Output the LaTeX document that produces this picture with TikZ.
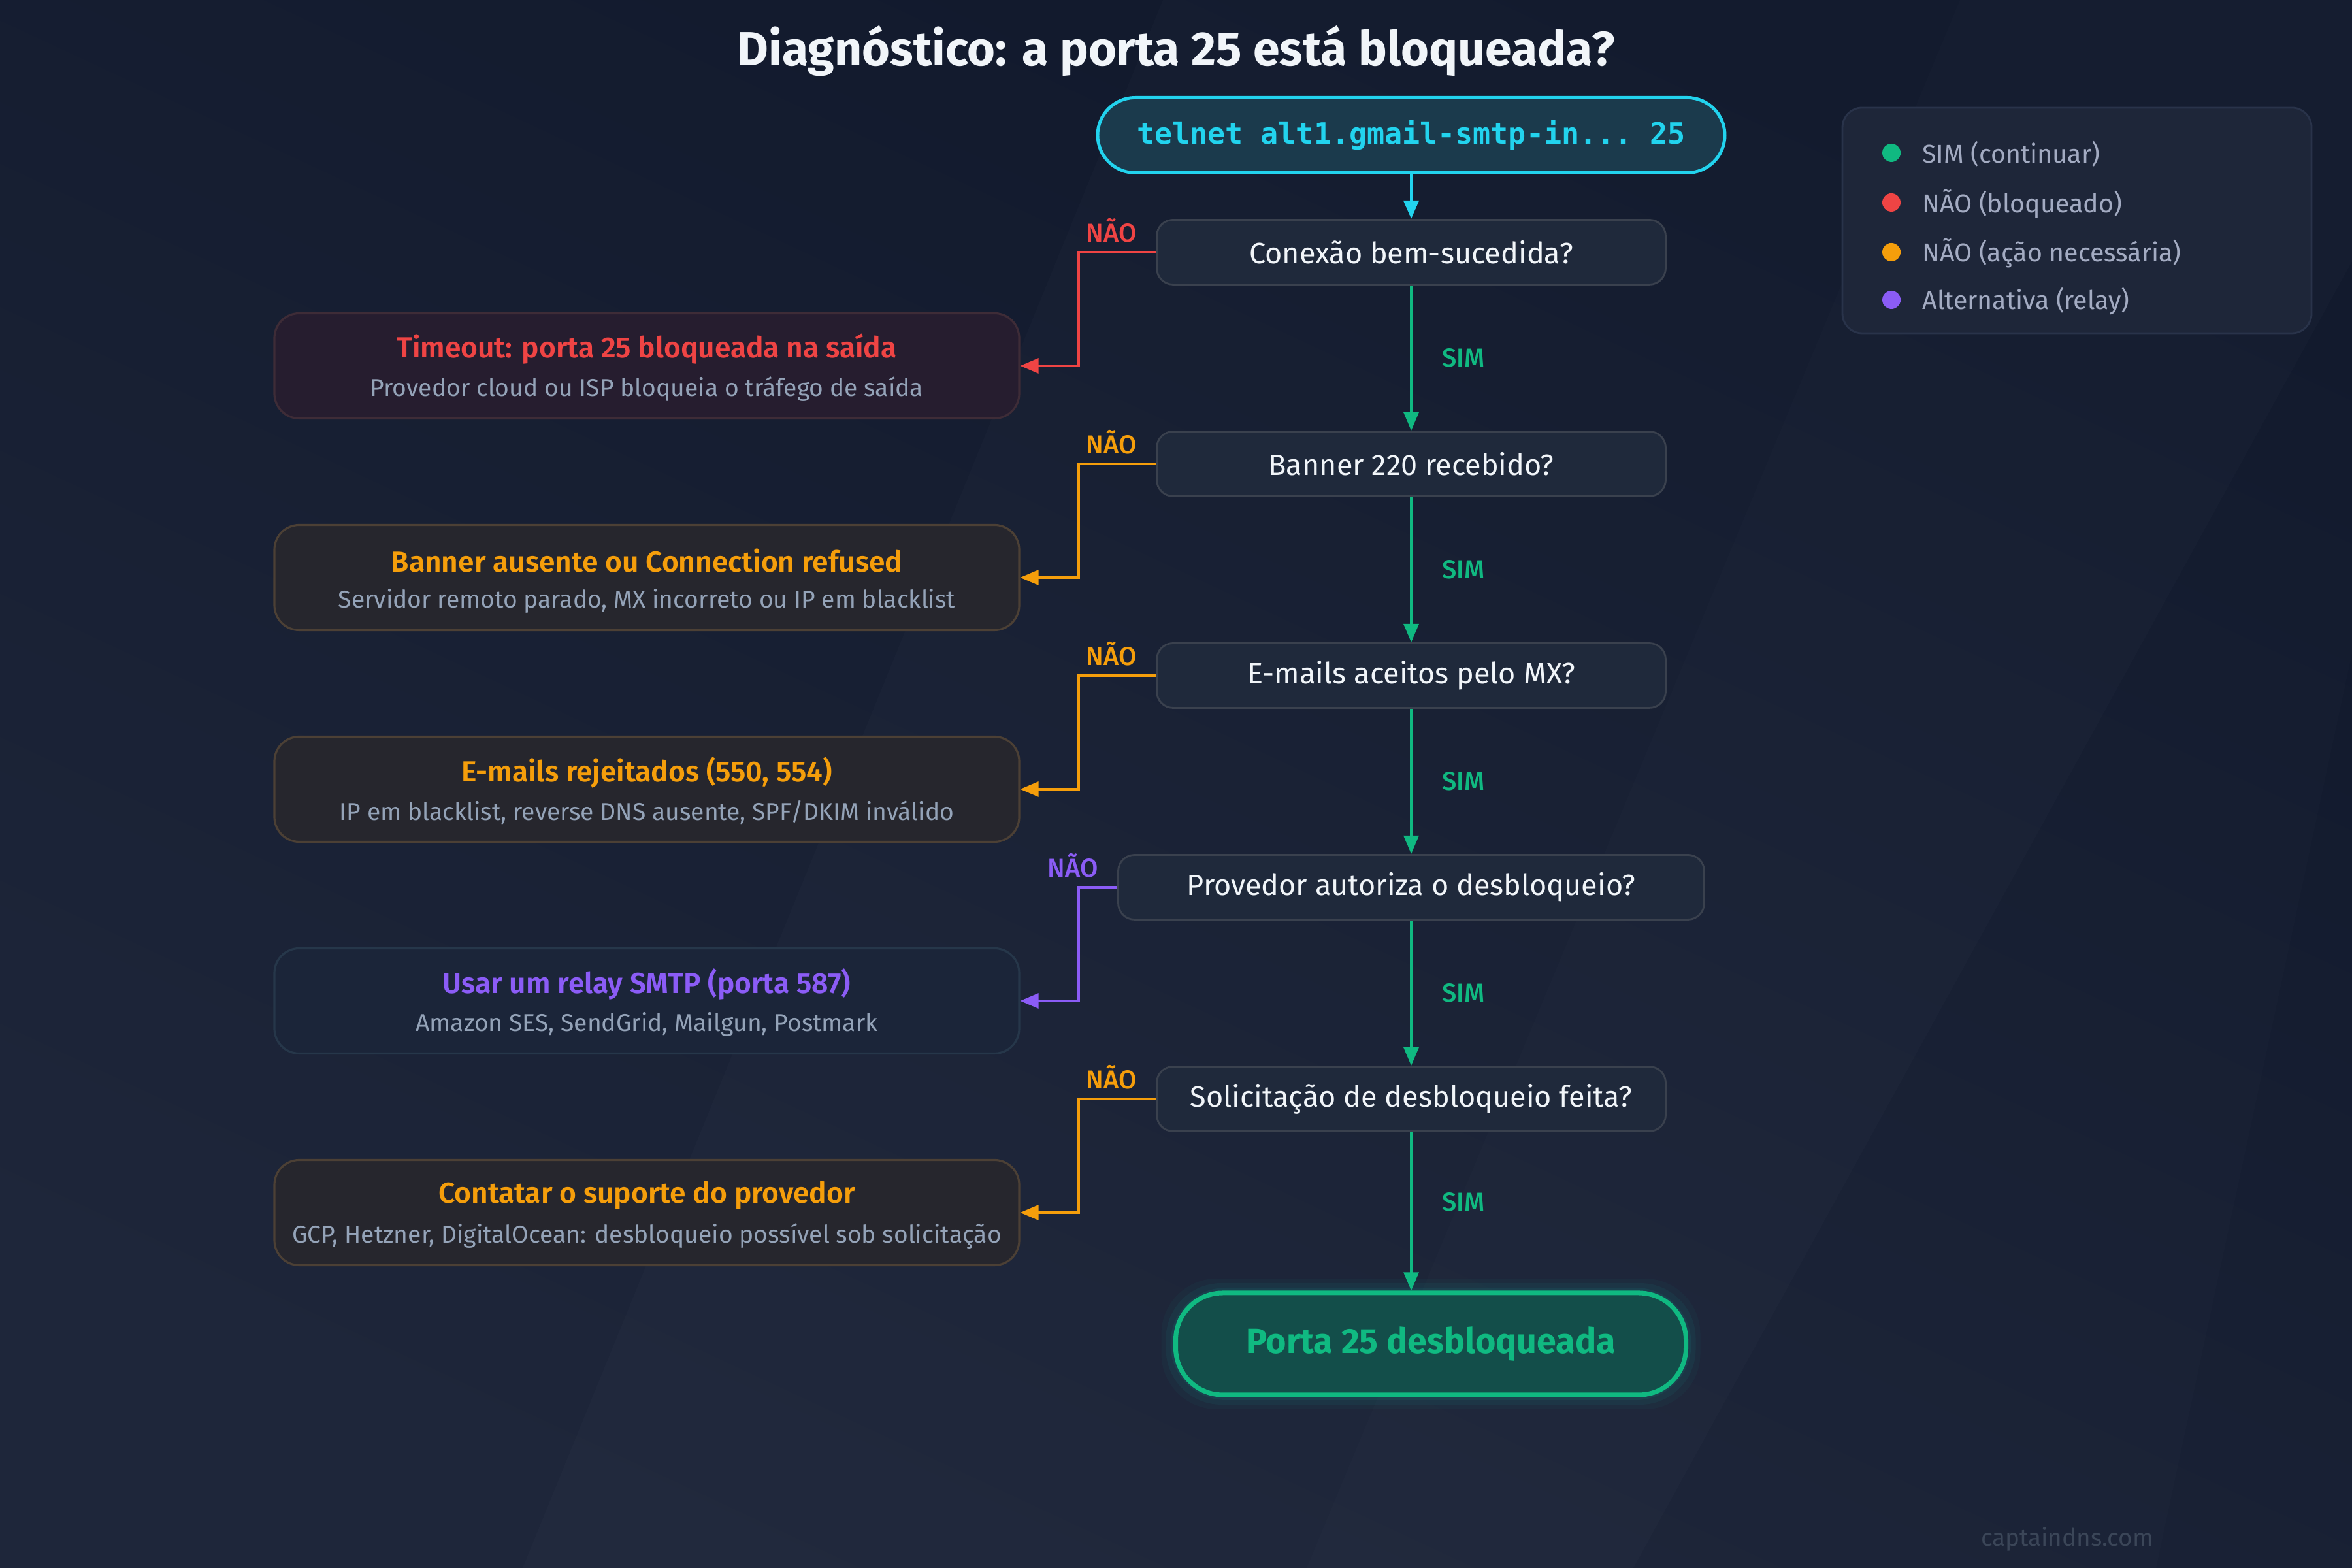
\documentclass[tikz,border=0pt]{standalone}
\usepackage{fontspec}
\setmainfont{Fira Sans}
\setmonofont{DejaVu Sans Mono}
\newfontfamily\semib{Fira Sans SemiBold}
\newfontfamily\medium{Fira Sans Medium}
\usetikzlibrary{calc,arrows.meta,positioning}
\definecolor{bgtop}{HTML}{10182B}
\definecolor{bgbot}{HTML}{1E263A}
\definecolor{text}{HTML}{F1F5F9}
\definecolor{muted}{HTML}{94A3B8}
\definecolor{legtext}{HTML}{A3ABC2}
\definecolor{mark}{HTML}{3B4658}
\definecolor{cmd}{HTML}{22D3EE}
\definecolor{cmdbg}{HTML}{1B3A4C}
\definecolor{sim}{HTML}{10B981}
\definecolor{okbg}{HTML}{134E4A}
\definecolor{naored}{HTML}{EF4444}
\definecolor{naoorange}{HTML}{F59E0B}
\definecolor{alt}{HTML}{8B5CF6}
\definecolor{decbg}{HTML}{1F293B}
\definecolor{decline}{HTML}{3A414E}
\definecolor{redbg}{HTML}{261D2F}
\definecolor{redline}{HTML}{3E2C37}
\definecolor{orbg}{HTML}{26262D}
\definecolor{orline}{HTML}{4C4035}
\definecolor{altbg}{HTML}{1B2539}
\definecolor{altline}{HTML}{26374A}
\definecolor{legbg}{HTML}{1E2639}
\definecolor{legline}{HTML}{29334A}
\tikzset{
  dec/.style={draw=decline, fill=decbg, line width=0.8pt, rounded corners=0.25cm,
    minimum width=7.79cm, minimum height=0.99cm, text=text, font=\fontsize{12.8}{15}\selectfont},
  outbox/.style={line width=0.9pt, rounded corners=0.38cm, minimum width=11.4cm, minimum height=1.61cm},
  ttl/.style={font=\fontsize{12.6}{15}\selectfont\semib},
  sub/.style={text=muted, font=\fontsize{10.6}{12}\selectfont},
  lab/.style={font=\fontsize{11.3}{13}\selectfont\medium},
  yes/.style={draw=sim, line width=1pt, -{Triangle[length=8pt,width=6.5pt]}},
  no/.style={line width=1pt, -{Triangle[length=8pt,width=6.5pt]}},
  dot/.style={circle, inner sep=0pt, minimum size=0.28cm},
  legitem/.style={text=legtext, anchor=west, font=\fontsize{11.2}{13}\selectfont},
}

\begin{document}
\begin{tikzpicture}
  \useasboundingbox (0,0) rectangle (36,24);
  % background
  \shade[top color=bgtop, bottom color=bgbot, shading angle=-25] (0,0) rectangle (36,24);
  \fill[white, opacity=0.015] (17.8,24) -- (36,24) -- (36,20) -- (25,0) -- (8,0) -- cycle;
  \fill[white, opacity=0.012] (30,24) -- (36,24) -- (36,14) -- (33,0) -- (20,0) -- cycle;

  \node[text=text, font=\fontsize{20.9}{24}\selectfont\bfseries] (title) at (18,23.22) {Diagnóstico: a porta 25 está bloqueada?};

  \node[draw=cmd, fill=cmdbg, line width=1.4pt, rounded corners=0.575cm, minimum width=9.6cm,
    minimum height=1.15cm, text=cmd, font=\fontsize{12.8}{15}\selectfont\ttfamily\bfseries]
    (cmd) at (21.6,21.93) {telnet alt1.gmail-smtp-in... 25};

  \node[dec] (d1) at (21.6,20.14) {Conexão bem-sucedida?};
  \node[dec] (d2) at (21.6,16.90) {Banner 220 recebido?};
  \node[dec] (d3) at (21.6,13.66) {E-mails aceitos pelo MX?};
  \node[dec, minimum width=8.97cm] (d4) at (21.6,10.42) {Provedor autoriza o desbloqueio?};
  \node[dec] (d5) at (21.6,7.18) {Solicitação de desbloqueio feita?};

  % glow of the last step
  \foreach \g/\o in {0.22/0.04,0.15/0.06,0.08/0.08}
    \fill[cmd!50!sim, opacity=\o, rounded corners=0.85cm] ($(21.9,3.43)+(-3.905-\g,-0.78-\g)$) rectangle ($(21.9,3.43)+(3.905+\g,0.78+\g)$);
  \node[draw=sim, fill=okbg, line width=2pt, rounded corners=0.72cm, minimum width=7.81cm,
    minimum height=1.56cm, text=sim, font=\fontsize{15.3}{18}\selectfont\bfseries]
    (ok) at (21.9,3.43) {Porta 25 desbloqueada};

  \node[outbox, draw=redline, fill=redbg] (r1) at (9.9,18.40) {};
  \node[outbox, draw=orline, fill=orbg] (r2) at (9.9,15.16) {};
  \node[outbox, draw=orline, fill=orbg] (r3) at (9.9,11.92) {};
  \node[outbox, draw=altline, fill=altbg] (r4) at (9.9,8.68) {};
  \node[outbox, draw=orline, fill=orbg] (r5) at (9.9,5.44) {};

  \node[ttl, text=naored] (r1t) at ($(r1.center)+(0,0.26)$) {Timeout: porta 25 bloqueada na saída};
  \node[sub] (r1s) at ($(r1.center)+(0,-0.36)$) {Provedor cloud ou ISP bloqueia o tráfego de saída};
  \node[ttl, text=naoorange] (r2t) at ($(r2.center)+(0,0.26)$) {Banner ausente ou Connection refused};
  \node[sub] (r2s) at ($(r2.center)+(0,-0.36)$) {Servidor remoto parado, MX incorreto ou IP em blacklist};
  \node[ttl, text=naoorange] (r3t) at ($(r3.center)+(0,0.26)$) {E-mails rejeitados (550, 554)};
  \node[sub] (r3s) at ($(r3.center)+(0,-0.36)$) {IP em blacklist, reverse DNS ausente, SPF/DKIM inválido};
  \node[ttl, text=alt] (r4t) at ($(r4.center)+(0,0.26)$) {Usar um relay SMTP (porta 587)};
  \node[sub] (r4s) at ($(r4.center)+(0,-0.36)$) {Amazon SES, SendGrid, Mailgun, Postmark};
  \node[ttl, text=naoorange] (r5t) at ($(r5.center)+(0,0.26)$) {Contatar o suporte do provedor};
  \node[sub] (r5s) at ($(r5.center)+(0,-0.36)$) {GCP, Hetzner, DigitalOcean: desbloqueio possível sob solicitação};

  % main line
  \draw[draw=cmd, line width=1.4pt, -{Triangle[length=8pt,width=6.5pt]}] (cmd) -- (d1);
  \draw[yes] (d1) -- (d2);
  \draw[yes] (d2) -- (d3);
  \draw[yes] (d3) -- (d4);
  \draw[yes] (d4) -- (d5);
  \draw[yes] (d5.south) -- (d5.south |- ok.north);

  \node[lab, text=sim, anchor=west] (s1) at ($(d1.south)!0.5!(d2.north)+(0.35,0)$) {SIM};
  \node[lab, text=sim, anchor=west] (s2) at ($(d2.south)!0.5!(d3.north)+(0.35,0)$) {SIM};
  \node[lab, text=sim, anchor=west] (s3) at ($(d3.south)!0.5!(d4.north)+(0.35,0)$) {SIM};
  \node[lab, text=sim, anchor=west] (s4) at ($(d4.south)!0.5!(d5.north)+(0.35,0)$) {SIM};
  \node[lab, text=sim, anchor=west] (s5) at ($(d5.south)+(0.35,-1.07)$) {SIM};

  % branches
  \coordinate (bend) at (16.51,0);
  \draw[no, draw=naored] (d1.west) -- (d1.west -| bend) |- (r1.east);
  \draw[no, draw=naoorange] (d2.west) -- (d2.west -| bend) |- (r2.east);
  \draw[no, draw=naoorange] (d3.west) -- (d3.west -| bend) |- (r3.east);
  \draw[no, draw=alt] (d4.west) -- (d4.west -| bend) |- (r4.east);
  \draw[no, draw=naoorange] (d5.west) -- (d5.west -| bend) |- (r5.east);

  \node[lab, text=naored, anchor=south east] (n1) at ($(d1.west)+(-0.17,0.02)$) {NÃO};
  \node[lab, text=naoorange, anchor=south east] (n2) at ($(d2.west)+(-0.17,0.02)$) {NÃO};
  \node[lab, text=naoorange, anchor=south east] (n3) at ($(d3.west)+(-0.17,0.02)$) {NÃO};
  \node[lab, text=alt, anchor=south east] (n4) at ($(d4.west)+(-0.17,0.02)$) {NÃO};
  \node[lab, text=naoorange, anchor=south east] (n5) at ($(d5.west)+(-0.17,0.02)$) {NÃO};

  % legend
  \node[draw=legline, fill=legbg, line width=0.8pt, rounded corners=0.3cm, minimum width=7.18cm,
    minimum height=3.45cm] (legend) at (31.79,20.625) {};
  \node[dot, fill=sim] (l1) at (28.95,21.66) {};
  \node[dot, fill=naored] (l2) at (28.95,20.90) {};
  \node[dot, fill=naoorange] (l3) at (28.95,20.14) {};
  \node[dot, fill=alt] (l4) at (28.95,19.41) {};
  \node[legitem] (l1t) at (29.30,21.64) {SIM (continuar)};
  \node[legitem] (l2t) at (29.30,20.88) {NÃO (bloqueado)};
  \node[legitem] (l3t) at (29.30,20.12) {NÃO (ação necessária)};
  \node[legitem] (l4t) at (29.30,19.39) {Alternativa (relay)};

  \node[text=mark, font=\fontsize{10.5}{12}\selectfont] (site) at (31.64,0.44) {captaindns.com};
\end{tikzpicture}
\end{document}
